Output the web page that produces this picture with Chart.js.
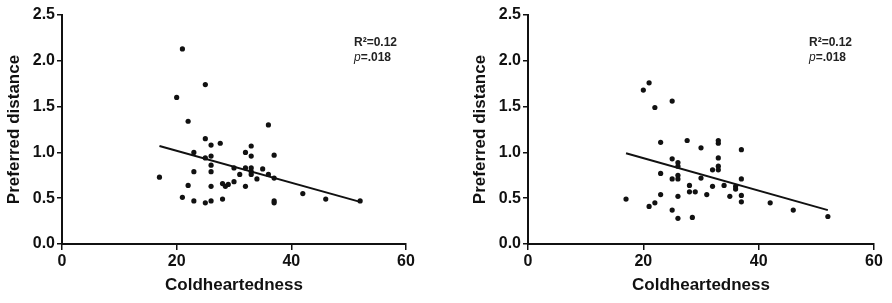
<!DOCTYPE html>
<html>
<head>
<meta charset="utf-8">
<script src="https://cdn.jsdelivr.net/npm/chart.js@4/dist/chart.umd.min.js"></script>
<style>
  body { margin: 0; background: #fff; }
  .row { display: flex; width: 892px; height: 303px; }
  canvas { display: block; }
</style>
</head>
<body>
<div class="row">
  <canvas id="leftChart" width="446" height="303"></canvas>
  <canvas id="rightChart" width="446" height="303"></canvas>
</div>
<script>
// valores
const xTicks = [0, 20, 40, 60];
const yTicks = [0, 0.5, 1.0, 1.5, 2.0, 2.5];

const leftX = [17, 21, 20, 25, 22, 25, 27.6, 26, 23, 25, 26, 26, 23, 26, 22, 26, 21, 23, 25, 26, 28, 28, 28.5, 29, 30, 30, 31, 32, 32, 32, 33, 33, 33, 33, 33, 34, 35, 36, 36, 37, 37, 37, 37, 42, 46, 52];
const leftY = [0.73, 2.13, 1.60, 1.74, 1.34, 1.15, 1.10, 1.08, 1.00, 0.94, 0.96, 0.86, 0.79, 0.79, 0.64, 0.63, 0.51, 0.47, 0.45, 0.47, 0.49, 0.66, 0.63, 0.65, 0.68, 0.83, 0.76, 1.00, 0.83, 0.63, 1.07, 0.96, 0.83, 0.79, 0.76, 0.71, 0.82, 1.30, 0.76, 0.97, 0.72, 0.47, 0.45, 0.55, 0.49, 0.47];
const leftFitX = [17, 52];
const leftFitY = [1.07, 0.46];

const rightX = [17, 20, 21, 22, 25, 23, 27.6, 30, 33, 33, 37, 25, 26, 26, 23, 26, 26, 25, 33, 33, 33, 32, 30, 37, 28, 29, 28, 31, 32, 34, 36, 36, 35, 37, 37, 23, 22, 21, 26, 25, 26, 28.5, 42, 46, 52];
const rightY = [0.49, 1.68, 1.76, 1.49, 1.56, 1.11, 1.13, 1.05, 1.13, 1.10, 1.03, 0.93, 0.89, 0.85, 0.77, 0.75, 0.71, 0.71, 0.94, 0.85, 0.81, 0.81, 0.72, 0.71, 0.64, 0.57, 0.57, 0.54, 0.63, 0.64, 0.63, 0.60, 0.52, 0.53, 0.46, 0.54, 0.45, 0.41, 0.52, 0.37, 0.28, 0.29, 0.45, 0.37, 0.30];
const rightFitX = [17, 52];
const rightFitY = [0.99, 0.37];

const statsLine1 = "R²=0.12";
const statsP = "p";
const statsLine2 = "=.018";

const FONT = "'Liberation Sans', Arial, sans-serif";

function toPoints(xs, ys) {
  return xs.map((x, i) => ({ x: x, y: ys[i] }));
}

// texto R² / p no canto superior direito
const statsPlugin = {
  id: "stats",
  afterDraw(chart, args, opts) {
    const ctx = chart.ctx;
    const left = chart.chartArea.left + opts.offsetX;
    ctx.save();
    ctx.fillStyle = "#222";
    ctx.textAlign = "left";
    ctx.textBaseline = "alphabetic";
    ctx.font = "bold 12px " + FONT;
    ctx.fillText(statsLine1, left, 46);
    ctx.font = "italic 12px " + FONT;
    ctx.fillText(statsP, left, 61);
    const w = ctx.measureText(statsP).width;
    ctx.font = "bold 12px " + FONT;
    ctx.fillText(statsLine2, left + w, 61);
    ctx.restore();
  },
};

function makeChart(id, xs, ys, fitX, fitY, padLeft, padRight, statsX) {
  return new Chart(document.getElementById(id), {
    type: "scatter",
    data: {
      datasets: [
        {
          data: toPoints(xs, ys),
          backgroundColor: "#111",
          borderColor: "#111",
          pointRadius: 2.6,
          pointBorderWidth: 0,
        },
        {
          type: "line",
          data: toPoints(fitX, fitY),
          borderColor: "#111",
          borderWidth: 2,
          pointRadius: 0,
          fill: false,
        },
      ],
    },
    options: {
      responsive: false,
      animation: false,
      events: [],
      layout: {
        padding: { left: padLeft, right: padRight, top: 15, bottom: 0 },
      },
      plugins: {
        legend: { display: false },
        tooltip: { enabled: false },
        stats: { offsetX: statsX },
      },
      scales: {
        x: {
          type: "linear",
          min: 0,
          max: 60,
          afterBuildTicks: (scale) => {
            scale.ticks = xTicks.map((v) => ({ value: v }));
          },
          afterFit: (scale) => {
            scale.height = 59;
          },
          border: { color: "#111", width: 2 },
          grid: {
            drawOnChartArea: false,
            drawTicks: true,
            tickLength: 6,
            color: "#111",
            lineWidth: 1.5,
          },
          ticks: {
            color: "#111",
            padding: 2,
            maxRotation: 0,
            font: { family: FONT, size: 16, weight: "bold" },
          },
          title: {
            display: true,
            text: "Coldheartedness",
            color: "#111",
            padding: { top: 4, bottom: 7 },
            font: { family: FONT, size: 17, weight: "bold" },
          },
        },
        y: {
          type: "linear",
          min: 0,
          max: 2.5,
          afterBuildTicks: (scale) => {
            scale.ticks = yTicks.map((v) => ({ value: v }));
          },
          afterFit: (scale) => {
            scale.width = 62;
          },
          border: { color: "#111", width: 2 },
          grid: {
            drawOnChartArea: false,
            drawTicks: true,
            tickLength: 5,
            color: "#111",
            lineWidth: 1.5,
          },
          ticks: {
            color: "#111",
            padding: 2,
            font: { family: FONT, size: 16, weight: "bold" },
            callback: function (value) {
              return Number(value).toFixed(1);
            },
          },
          title: {
            display: true,
            text: "Preferred distance",
            color: "#111",
            padding: { top: 4, bottom: 0 },
            font: { family: FONT, size: 17, weight: "bold" },
          },
        },
      },
    },
    plugins: [statsPlugin],
  });
}

makeChart("leftChart", leftX, leftY, leftFitX, leftFitY, 0, 40, 292);
makeChart("rightChart", rightX, rightY, rightFitX, rightFitY, 20, 18, 281);
</script>
</body>
</html>
